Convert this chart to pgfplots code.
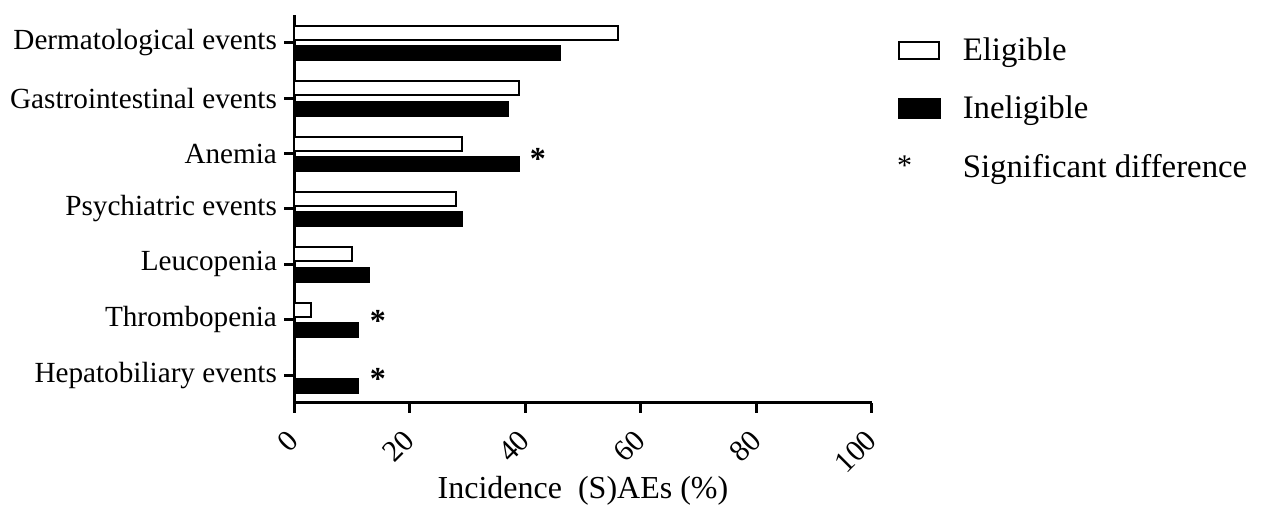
\documentclass[border=0pt]{standalone}
\usepackage{fontspec}
\setmainfont{Liberation Serif}
\usepackage{pgfplots}
\pgfplotsset{compat=1.18}

\begin{document}
\begin{tikzpicture}
\begin{axis}[
  scale only axis, width=289pt, height=194pt,
  xmin=0, xmax=100, ymin=-0.5, ymax=6.5,
  axis lines=left,
  axis line style={-, line width=1.5pt},
  clip=false,
  xtick={0,20,...,100},
  ytick={0,...,6},
  yticklabels={Hepatobiliary events, Thrombopenia, Leucopenia, Psychiatric events, Anemia, Gastrointestinal events, Dermatological events},
  tick align=outside, major tick length=5pt,
  tick style={line width=1.5pt, black},
  /pgf/number format/assume math mode=true,
  yticklabel style={font=\fontsize{14.6}{16}\selectfont},
  xticklabel style={font=\fontsize{15}{17}\selectfont, inner sep=1pt, xshift=0.5pt, yshift=-10.5pt, rotate=45, anchor=east},
  xlabel={Incidence\ \ (S)AEs (\%)},
  xlabel style={font=\fontsize{16}{18}\selectfont, inner sep=1pt, at={(rel axis cs:0.5,-0.247)}, anchor=base},
  legend style={at={(rel axis cs:1.043,0.953)}, anchor=north west, draw=none, fill=none,
    inner sep=0pt, row sep=12.25pt, column sep=9pt, font=\fontsize{16.4}{18}\selectfont},
  legend cell align=left,
]
% Eligible
\addplot[xbar, bar width=7pt, bar shift=5pt, draw=black, line width=1pt, fill=white,
  legend image code/.code={\draw[line width=1pt] (0cm,-0.15cm) rectangle (0.7cm,0.15cm);}]
  coordinates {(0,0) (3,1) (10,2) (28,3) (29,4) (39,5) (56,6)};
\addlegendentry{Eligible}
% Ineligible
\addplot[xbar, bar width=7pt, bar shift=-5.25pt, draw=black, line width=1pt, fill=black,
  legend image code/.code={\fill (0cm,-0.17cm) rectangle (0.72cm,0.17cm);}]
  coordinates {(11,0) (11,1) (13,2) (29,3) (39,4) (37,5) (46,6)};
\addlegendentry{Ineligible}
% significance markers
\addplot[draw=none, forget plot, nodes near coords={\bfseries *},
  every node near coord/.append style={anchor=center, font=\fontsize{16}{18}\selectfont}]
  coordinates {(42.2,3.9) (14.5,0.98) (14.5,-0.06)};
\addlegendimage{legend image code/.code={\node[inner sep=0pt, font=\fontsize{15}{17}\selectfont] at (-1pt,0) {*};}}
\addlegendentry{Significant difference}
\path (rel axis cs:-0.5087,-0.2655) rectangle (rel axis cs:1.680,1.0387);
\end{axis}
\end{tikzpicture}
\end{document}
